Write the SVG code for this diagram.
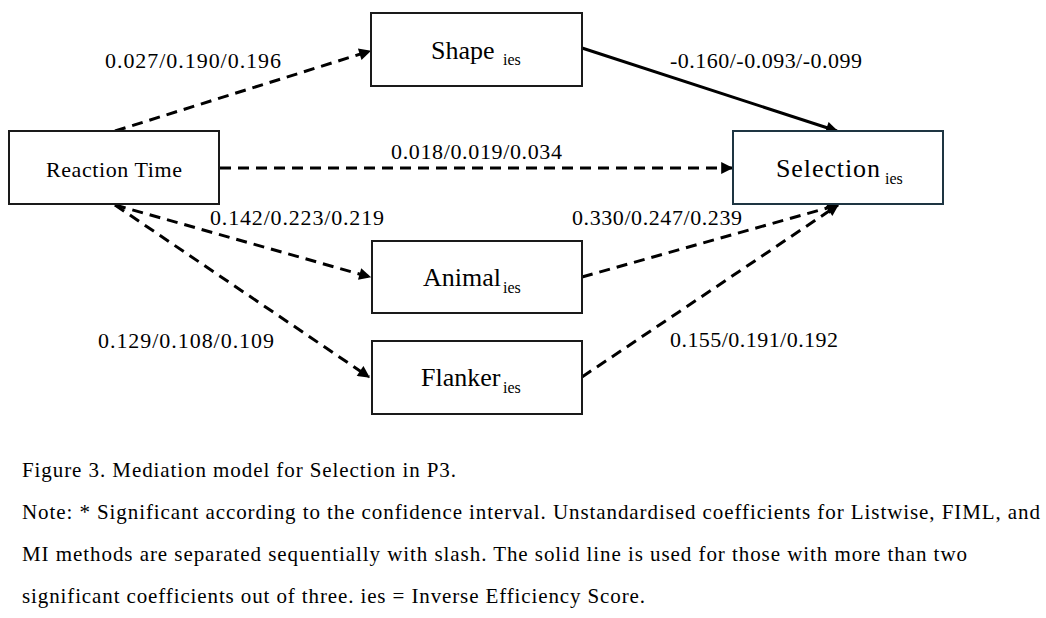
<svg xmlns="http://www.w3.org/2000/svg" width="1046" height="618" viewBox="0 0 1046 618">
<style>
text{font-family:'Liberation Serif','Times New Roman',serif;fill:#000}
.box{fill:#fff;stroke:#1a1a1a;stroke-width:2}
.sel{fill:#fff;stroke:#1e3542;stroke-width:2}
.node{font-size:26px}
.sub{font-size:16px}
.num{font-size:22px}
.cap{font-size:21px}
.dash{stroke:#000;stroke-width:3;fill:none;stroke-dasharray:11 7}
.solid{stroke:#000;stroke-width:3;fill:none}
</style>
<defs>
<marker id="ah" viewBox="0 0 10 10" refX="9" refY="5" markerWidth="4.5" markerHeight="4" markerUnits="strokeWidth" orient="auto">
<path d="M0,0 L10,5 L0,10 z" fill="#000"/>
</marker>
</defs>
<rect width="1046" height="618" fill="#fff"/>
<g id="connectors">
<line class="dash" x1="115" y1="131" x2="370" y2="51" marker-end="url(#ah)"/>
<line class="dash" x1="220" y1="168" x2="732" y2="168" marker-end="url(#ah)"/>
<line class="dash" x1="115" y1="205" x2="370" y2="277" marker-end="url(#ah)"/>
<line class="dash" x1="115" y1="205" x2="369" y2="377" marker-end="url(#ah)"/>
<line class="solid" x1="582" y1="48" x2="837" y2="131" marker-end="url(#ah)"/>
<line class="dash" x1="582" y1="277" x2="838" y2="205" marker-end="url(#ah)"/>
<line class="dash" x1="582" y1="377" x2="838" y2="205" marker-end="url(#ah)"/>
</g>
<g id="node-reaction">
<rect class="box" x="9" y="131" width="210" height="73"/>
<text x="46" y="177" font-size="22" textLength="136" lengthAdjust="spacing">Reaction Time</text>
</g>
<g id="node-shape">
<rect class="box" x="371" y="13" width="211" height="73"/>
<text class="node" x="431" y="58.5">Shape</text>
<text class="sub" x="503" y="65">ies</text>
</g>
<g id="node-selection">
<rect class="sel" x="733" y="131" width="210" height="73"/>
<text class="node" x="776" y="176.5" font-size="27" textLength="104" lengthAdjust="spacing">Selection</text>
<text class="sub" x="885" y="184">ies</text>
</g>
<g id="node-animal">
<rect class="box" x="372" y="241" width="210" height="72"/>
<text class="node" x="423" y="286">Animal</text>
<text class="sub" x="503" y="293">ies</text>
</g>
<g id="node-flanker">
<rect class="box" x="372" y="341" width="210" height="73"/>
<text class="node" x="421" y="386">Flanker</text>
<text class="sub" x="503" y="393">ies</text>
</g>
<g id="edge-labels">
<text class="num" x="105" y="68" textLength="176" lengthAdjust="spacing">0.027/0.190/0.196</text>
<text class="num" x="670" y="68" textLength="192" lengthAdjust="spacing">-0.160/-0.093/-0.099</text>
<text class="num" x="391" y="159" textLength="171" lengthAdjust="spacing">0.018/0.019/0.034</text>
<text class="num" x="210" y="225" textLength="174" lengthAdjust="spacing">0.142/0.223/0.219</text>
<text class="num" x="572" y="225" textLength="170" lengthAdjust="spacing">0.330/0.247/0.239</text>
<text class="num" x="98" y="348" textLength="176" lengthAdjust="spacing">0.129/0.108/0.109</text>
<text class="num" x="670" y="347" textLength="168" lengthAdjust="spacing">0.155/0.191/0.192</text>
</g>
<g id="caption">
<text class="cap" x="22" y="477" textLength="434" lengthAdjust="spacing">Figure 3. Mediation model for Selection in P3.</text>
<text class="cap" x="22" y="519" textLength="1018" lengthAdjust="spacing">Note: * Significant according to the confidence interval. Unstandardised coefficients for Listwise, FIML, and</text>
<text class="cap" x="22" y="561" textLength="945" lengthAdjust="spacing">MI methods are separated sequentially with slash. The solid line is used for those with more than two</text>
<text class="cap" x="22" y="603" textLength="623" lengthAdjust="spacing">significant coefficients out of three. ies = Inverse Efficiency Score.</text>
</g>
</svg>
